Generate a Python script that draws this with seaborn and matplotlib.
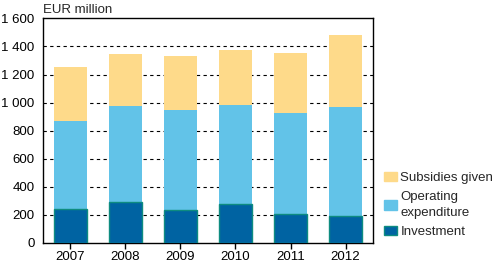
import matplotlib
matplotlib.use("Agg")
import matplotlib.pyplot as plt
import matplotlib.patches as mpatches
import seaborn as sns
import pandas as pd
import numpy as np

years = ["2007", "2008", "2009", "2010", "2011", "2012"]
investment = [240, 292, 232, 277, 206, 192]
operating = [628, 682, 714, 704, 719, 775]
subsidies = [384, 370, 384, 391, 426, 512]
y_ticks = [0, 200, 400, 600, 800, 1000, 1200, 1400, 1600]
y_labels = ["0", "200", "400", "600", "800", "1 000", "1 200", "1 400", "1 600"]

c_sub = "#FEDA8A"
c_op = "#62C3E8"
c_inv = "#0063A2"
c_edge = "#0E8C80"

sns.set_style("white")
plt.rcParams["font.family"] = ["Liberation Sans", "DejaVu Sans"]
plt.rcParams["font.size"] = 9.5

inv = np.array(investment)
op_top = inv + np.array(operating)
total = op_top + np.array(subsidies)

df = pd.DataFrame({"year": years, "inv": inv, "op": op_top, "tot": total})

fig = plt.figure(figsize=(4.93, 2.66), dpi=100)
ax = fig.add_axes([0.0872, 0.0865, 0.6694, 0.8445])

ax.set_axisbelow(True)
for t in y_ticks[1:-1]:
    ax.axhline(t, color="black", linestyle=(0, (3, 3)), linewidth=0.8, zorder=0)

sns.barplot(data=df, x="year", y="tot", color=c_sub, width=0.6, ax=ax,
            saturation=1, linewidth=0, zorder=2)
sns.barplot(data=df, x="year", y="op", color=c_op, width=0.6, ax=ax,
            saturation=1, linewidth=0, zorder=3)
sns.barplot(data=df, x="year", y="inv", color=c_inv, width=0.6, ax=ax,
            saturation=1, linewidth=1, edgecolor=c_edge, zorder=4)

ax.set_ylim(0, 1600)
ax.set_xlim(-0.5, 5.5)
ax.set_yticks(y_ticks)
ax.set_yticklabels(y_labels)
ax.set_xlabel("")
ax.set_ylabel("")
for s in ax.spines.values():
    s.set_visible(True)
    s.set_color("black")
    s.set_linewidth(1)
ax.tick_params(axis="x", direction="out", length=4, width=1, color="black", pad=2, labelcolor="black")
ax.tick_params(axis="y", length=0, pad=6, labelcolor="black")
ax.tick_params(axis="x", bottom=True)

fig.text(0.0872, 0.985, "EUR million", ha="left", va="top", fontsize=9.5)

handles = [
    mpatches.Patch(facecolor=c_sub, edgecolor=c_sub, label="Subsidies given"),
    mpatches.Patch(facecolor=c_op, edgecolor=c_op, label="Operating\nexpenditure"),
    mpatches.Patch(facecolor=c_inv, edgecolor=c_edge, linewidth=1, label="Investment"),
]
leg = fig.legend(handles=handles, loc="lower left", bbox_to_anchor=(0.768, 0.085),
                 frameon=False, handlelength=1.0, handleheight=0.7, handletextpad=0.25,
                 labelspacing=0.55, borderaxespad=0, fontsize=9.5)
for t in leg.get_texts():
    t.set_linespacing(1.35)

fig.savefig("out.png", dpi=100)
